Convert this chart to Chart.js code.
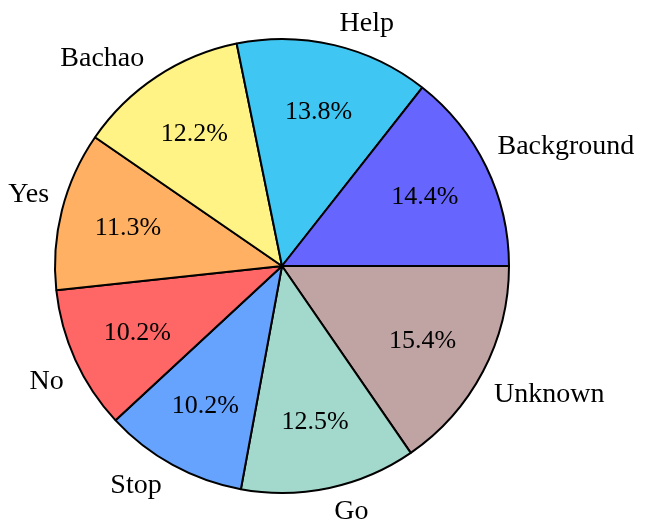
<!DOCTYPE html>
<html>
<head>
<meta charset="utf-8">
<script src="https://cdn.jsdelivr.net/npm/chart.js@4/dist/chart.umd.min.js"></script>
<style>
  body { margin: 0; background: #fff; }
</style>
</head>
<body>
<canvas id="pie" width="645" height="520"></canvas>
<script>
// Slices listed counter-clockwise from 3 o'clock, like the original plot
const sliceNames = ['Background', 'Help', 'Bachao', 'Yes', 'No', 'Stop', 'Go', 'Unknown'];
const sliceShares = [14.4, 13.8, 12.2, 11.3, 10.2, 10.2, 12.5, 15.4];
const sliceColours = ['#6666ff', '#40c6f2', '#fff385', '#ffb063', '#ff6666', '#66a3ff', '#a3d9cc', '#c0a3a3'];

const LABEL_DIST = 1.1;
const PCT_DIST = 0.7;
const LABEL_FONT = 28;
const PCT_FONT = 26;
const FAMILY = '"Liberation Serif", "DejaVu Serif", serif';

// chart.js draws clockwise, so feed it the slices reversed
const names = sliceNames.slice().reverse();
const shares = sliceShares.slice().reverse();
const colours = sliceColours.slice().reverse();
const total = shares.reduce((a, b) => a + b, 0);

// labels outside the pie, percentages inside
const sliceText = {
  id: 'sliceText',
  afterDatasetsDraw(chart) {
    const ctx = chart.ctx;
    const arcs = chart.getDatasetMeta(0).data;
    ctx.save();
    ctx.fillStyle = '#000';
    ctx.textBaseline = 'alphabetic';
    arcs.forEach((arc, i) => {
      const p = arc.getProps(['x', 'y', 'startAngle', 'endAngle', 'outerRadius'], true);
      const mid = (p.startAngle + p.endAngle) / 2;
      const cos = Math.cos(mid);
      const sin = Math.sin(mid);
      const r = p.outerRadius;

      const pct = (shares[i] / total * 100).toFixed(1) + '%';
      ctx.font = PCT_FONT + 'px ' + FAMILY;
      ctx.textAlign = 'center';
      ctx.fillText(pct, p.x + cos * r * PCT_DIST, p.y + sin * r * PCT_DIST + PCT_FONT * 0.3);

      // labels beside the left/right rim sit a little tighter in x and further out in y
      let lx = p.x + cos * r * LABEL_DIST;
      let ly = p.y + sin * r * LABEL_DIST;
      if (Math.abs(cos) > 0.8) {
        lx -= Math.sign(cos) * r * 0.04;
        ly += Math.sign(sin) * r * 0.05;
      }
      ctx.font = LABEL_FONT + 'px ' + FAMILY;
      ctx.textAlign = cos > 0 ? 'left' : 'right';
      ctx.fillText(names[i], lx, ly + LABEL_FONT * 0.3);
    });
    ctx.restore();
  }
};

const pieChart = new Chart(document.getElementById('pie'), {
  type: 'pie',
  data: {
    labels: names,
    datasets: [{
      data: shares,
      backgroundColor: colours,
      borderColor: '#000',
      borderWidth: 2
    }]
  },
  options: {
    responsive: false,
    animation: false,
    rotation: 90,
    layout: {
      padding: { left: 54, right: 135, top: 38, bottom: 26 }
    },
    plugins: {
      legend: { display: false },
      tooltip: { enabled: false }
    }
  },
  plugins: [sliceText]
});
</script>
</body>
</html>
